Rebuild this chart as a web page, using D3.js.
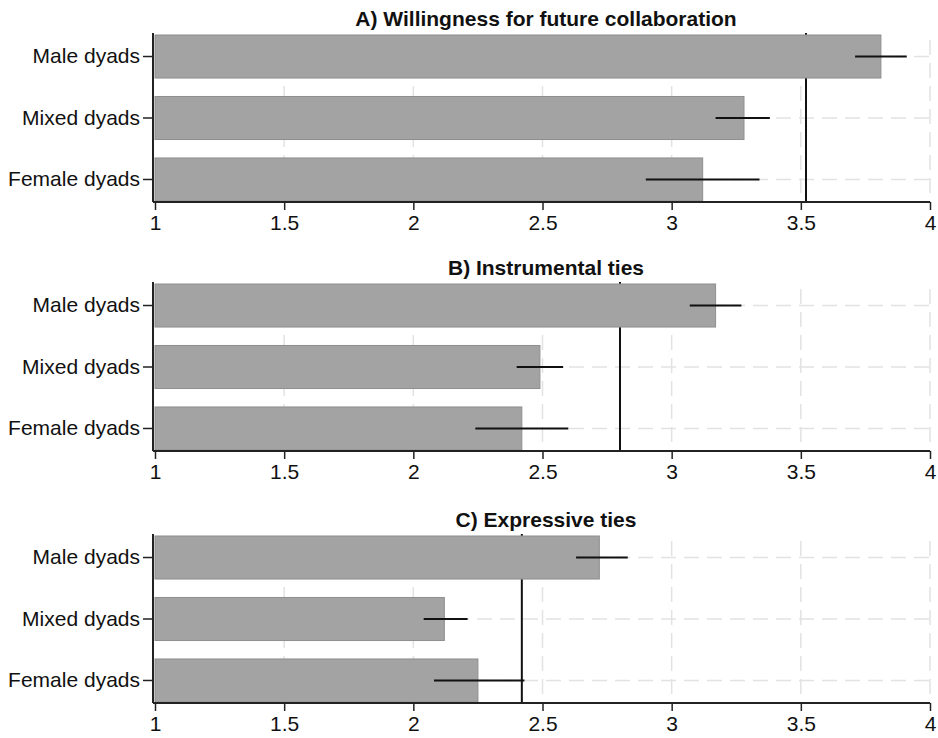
<!DOCTYPE html>
<html>
<head>
<meta charset="utf-8">
<script src="https://cdn.jsdelivr.net/npm/d3@7"></script>
<style>
  body { margin: 0; background: #fff; }
  text { font-family: "Liberation Sans", Arial, sans-serif; }
</style>
</head>
<body>
<svg id="chart" width="938" height="738"></svg>
<script>
// values
const categories = ["Male dyads", "Mixed dyads", "Female dyads"];
const panelTitles = ["A) Willingness for future collaboration", "B) Instrumental ties", "C) Expressive ties"];
const meansA = [3.81, 3.28, 3.12];
const meansB = [3.17, 2.49, 2.42];
const meansC = [2.72, 2.12, 2.25];
const lowerA = [3.71, 3.17, 2.90];
const lowerB = [3.07, 2.40, 2.24];
const lowerC = [2.63, 2.04, 2.08];
const upperA = [3.91, 3.38, 3.34];
const upperB = [3.27, 2.58, 2.60];
const upperC = [2.83, 2.21, 2.43];
const refLines = [3.52, 2.80, 2.42];
const xTicks = [1, 1.5, 2, 2.5, 3, 3.5, 4];

const means = [meansA, meansB, meansC];
const lowers = [lowerA, lowerB, lowerC];
const uppers = [upperA, upperB, upperC];

const svg = d3.select("#chart");
const panelTops = [33, 282, 534];
const plotH = 169;

const x = d3.scaleLinear().domain([1, 4]).range([155, 930]);

panelTitles.forEach((title, p) => {
    const top = panelTops[p];
    const bottom = top + plotH;
    const g = svg.append("g");

    const y = d3.scaleBand()
        .domain(categories)
        .range([top + 2, top + 168])
        .paddingInner(0.3)
        .paddingOuter(0);

    // grid
    g.selectAll(".vgrid")
        .data(xTicks.slice(1))
        .enter().append("line")
        .attr("x1", d => x(d)).attr("x2", d => x(d))
        .attr("y1", top + 7).attr("y2", bottom)
        .attr("stroke", "#e2e2e2")
        .attr("stroke-width", 1.5)
        .attr("stroke-dasharray", "15,8");
    g.selectAll(".hgrid")
        .data(categories)
        .enter().append("line")
        .attr("x1", x(1)).attr("x2", x(4))
        .attr("y1", d => y(d) + y.bandwidth() / 2)
        .attr("y2", d => y(d) + y.bandwidth() / 2)
        .attr("stroke", "#e2e2e2")
        .attr("stroke-width", 1.5)
        .attr("stroke-dasharray", "15,8");

    // reference line (sits behind the bars)
    g.append("line")
        .attr("x1", x(refLines[p])).attr("x2", x(refLines[p]))
        .attr("y1", top).attr("y2", bottom)
        .attr("stroke", "#111")
        .attr("stroke-width", 2);

    // bars
    g.selectAll(".bar")
        .data(categories)
        .enter().append("rect")
        .attr("x", x(1))
        .attr("y", d => y(d))
        .attr("width", (d, i) => x(means[p][i]) - x(1))
        .attr("height", y.bandwidth())
        .attr("fill", "#a3a3a3")
        .attr("stroke", "#8e8e8e")
        .attr("stroke-width", 1);

    // error bars
    g.selectAll(".err")
        .data(categories)
        .enter().append("line")
        .attr("x1", (d, i) => x(lowers[p][i]))
        .attr("x2", (d, i) => x(uppers[p][i]))
        .attr("y1", d => y(d) + y.bandwidth() / 2)
        .attr("y2", d => y(d) + y.bandwidth() / 2)
        .attr("stroke", "#111")
        .attr("stroke-width", 2);

    // axes
    const xAxis = g.append("g")
        .attr("transform", "translate(0," + bottom + ")")
        .call(d3.axisBottom(x).tickValues(xTicks).tickFormat(d3.format("")).tickSizeOuter(0).tickSize(8).tickPadding(5));
    xAxis.select(".domain").attr("d", "M153,0H" + x(4)).attr("stroke", "#222").attr("stroke-width", 2);
    xAxis.selectAll(".tick line").attr("stroke", "#222").attr("stroke-width", 1.5);
    xAxis.selectAll(".tick text").attr("font-size", 21).attr("fill", "#111")
        .attr("font-family", "Liberation Sans, Arial, sans-serif");

    const yAxis = g.append("g")
        .attr("transform", "translate(153,0)")
        .call(d3.axisLeft(y).tickSize(10).tickSizeOuter(0).tickPadding(3));
    yAxis.select(".domain").attr("d", "M0," + top + "V" + bottom).attr("stroke", "#222").attr("stroke-width", 2);
    yAxis.selectAll(".tick line").attr("stroke", "#222").attr("stroke-width", 1.5);
    yAxis.selectAll(".tick text").attr("font-size", 21).attr("fill", "#111")
        .attr("font-family", "Liberation Sans, Arial, sans-serif");

    // title
    g.append("text")
        .attr("x", 546)
        .attr("y", top - 7)
        .attr("text-anchor", "middle")
        .attr("font-size", 21)
        .attr("font-weight", "bold")
        .attr("fill", "#111")
        .text(title);
});
</script>
</body>
</html>
